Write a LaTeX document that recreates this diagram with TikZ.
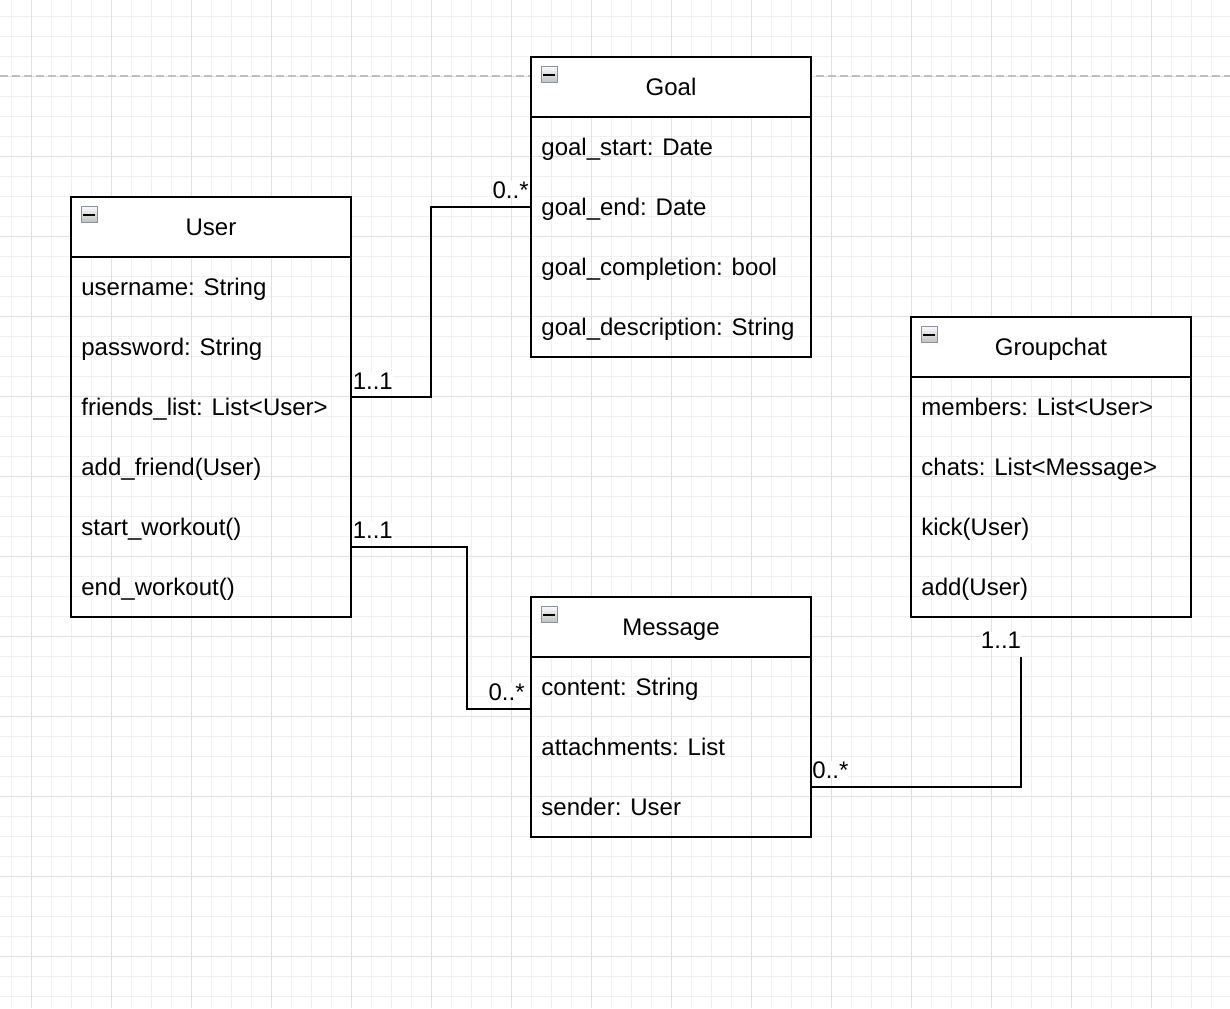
\documentclass[tikz,border=0pt]{standalone}
\usepackage{fontspec}
\setmainfont{Liberation Sans}
\usetikzlibrary{calc}
\definecolor{iconborder}{HTML}{8A919C}
\definecolor{gridminor}{HTML}{F0F0F0}
\definecolor{gridmajor}{HTML}{E0E0E0}
\definecolor{dashgrey}{HTML}{C0C0C0}
\newcommand\umlfont{\fontsize{12pt}{14pt}\selectfont}
\tikzset{
  classbox/.style={draw=black, line width=1pt, minimum width=140pt, anchor=north west, inner sep=0pt, outer sep=0pt},
  classhead/.style={draw=black, line width=1pt, fill=white, minimum width=140pt, minimum height=30pt, anchor=north west, inner sep=0pt, outer sep=0pt, text height=8.6pt, text depth=0pt, font=\umlfont},
  classattr/.style={anchor=west, inner sep=0pt, text height=8.6pt, text depth=0pt, font=\umlfont},
  multlabel/.style={inner sep=0pt, fill=white, font=\umlfont},
  assoc/.style={draw=black, line width=1pt},
  minorline/.style={draw=gridminor, line width=0.5pt},
  majorline/.style={draw=gridmajor, line width=0.5pt},
  icon/.style={top color=gray!4, bottom color=gray!50, draw=iconborder, line width=0.9pt},
}
\newcommand\umlclass[6]{%
  \node[classbox, minimum height=#5] (#1) at (#2,#3) {};
  \node[classhead] (#1head) at (#2,#3) {#4};
  \shade[icon] ({#2+10.5},{#3+9.5}) rectangle ++(16,16);
  \draw[line width=1pt] ({#2+12},{#3+17.5}) -- ++(11.5,0);
  \foreach \a [count=\k] in {#6} {\node[classattr] (#1row\k) at ({#2+10},{#3+30+60*\k}) {\a};}
}
\begin{document}
\begin{tikzpicture}[x=0.5pt, y=-0.5pt]
\useasboundingbox (0,0) rectangle (1230,1008);
% grid
\foreach \i in {0,...,61} \draw[minorline] ({11+20*\i},0) -- ({11+20*\i},1008);
\foreach \j in {0,...,49} \draw[minorline] (0,{16+20*\j}) -- (1230,{16+20*\j});
\foreach \i in {0,...,15} \draw[majorline] ({31+80*\i},0) -- ({31+80*\i},1008);
\foreach \j in {0,...,11} \draw[majorline] (0,{76+80*\j}) -- (1230,{76+80*\j});
% page break line
\draw[draw=dashgrey, line width=1pt, dash pattern=on 4pt off 2pt] (0,76) -- (1230,76);
% classes
\umlclass{user}{71}{197}{User}{210pt}{username: String, password: String, friends\_list: List<User>, add\_friend(User), start\_workout(), end\_workout()}
\umlclass{goal}{531}{57}{Goal}{150pt}{goal\_start: Date, goal\_end: Date, goal\_completion: bool, goal\_description: String}
\umlclass{groupchat}{911}{317}{Groupchat}{150pt}{members: List<User>, chats: List<Message>, kick(User), add(User)}
\umlclass{message}{531}{597}{Message}{120pt}{content: String, attachments: List, sender: User}
% connectors
\coordinate (gcend) at ($(groupchat.south west)+(110,40)$);
\draw[assoc] ($(user.north east)+(0,200)$) -- ++(80,0) |- ($(goal.north west)+(0,150)$);
\draw[assoc] ($(user.north east)+(0,350)$) -- ++(116,0) |- ($(message.north west)+(0,112)$);
\draw[assoc] ($(message.north east)+(0,190)$) -| (gcend);
% multiplicities
\node[multlabel, anchor=base west] (m1) at ($(user.north east)+(1.4,192)$) {1..1};
\node[multlabel, anchor=base east] (m2) at ($(goal.north west)+(-2,141)$) {0..*};
\node[multlabel, anchor=base west] (m3) at ($(user.north east)+(1.4,341)$) {1..1};
\node[multlabel, anchor=base east] (m4) at ($(message.north west)+(-6,103)$) {0..*};
\node[multlabel, anchor=base west] (m5) at ($(message.north east)+(1,181)$) {0..*};
\node[multlabel, anchor=base east] (m6) at ($(gcend)+(0.4,-9)$) {1..1};
\end{tikzpicture}
\end{document}
